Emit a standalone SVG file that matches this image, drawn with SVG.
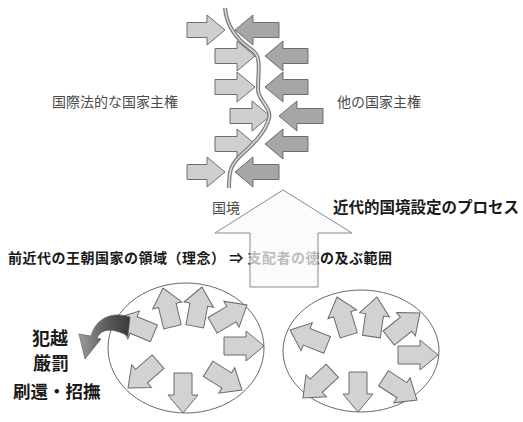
<svg xmlns="http://www.w3.org/2000/svg" width="523" height="422" viewBox="0 0 523 422">
<style>
  .t{font-family:"Noto Sans CJK JP","Noto Sans",sans-serif;}
  .g{fill:#4a4a4a;font-size:14px;}
  .b{fill:#1a1a1a;font-weight:bold;}
  .la{fill:#cfcfcf;stroke:#6e6e6e;stroke-width:1;}
  .da{fill:#a6a6a6;stroke:#6e6e6e;stroke-width:1;}
  .sa{fill:#d2d2d2;stroke:#6a6a6a;stroke-width:1;}
  .el{fill:none;stroke:#6a6a6a;stroke-width:1;}
</style>
<defs>
  <path id="sm" d="M-40,-9 H-18 V-15 L0,0 L-18,15 V9 H-40 Z"/>
  <linearGradient id="cg" x1="80" y1="0" x2="130" y2="0" gradientUnits="userSpaceOnUse">
    <stop offset="0" stop-color="#9a9a9a"/>
    <stop offset="0.55" stop-color="#5a5a5a"/>
    <stop offset="1" stop-color="#3a3a3a"/>
  </linearGradient>
</defs>

<g id="labels">
  <text class="t g" x="52" y="107">国際法的な国家主権</text>
  <text class="t g" x="337" y="107">他の国家主権</text>
  <text class="t g" x="212" y="213">国境</text>
  <text class="t b" x="333" y="213" font-size="15.5">近代的国境設定のプロセス</text>
  <text class="t b" x="8" y="263" font-size="14" textLength="384" lengthAdjust="spacing">前近代の王朝国家の領域（理念） ⇒ 支配者の徳の及ぶ範囲</text>
  <text class="t b" x="32" y="345" font-size="18">犯越</text>
  <text class="t b" x="33" y="370" font-size="18">厳罰</text>
  <text class="t b" x="13" y="398" font-size="17.5">刷還・招撫</text>
</g>

<g id="sovereignty-left">
  <path class="la" d="M187,22.5 H207 V15 L225,30 L207,45 V37.5 H187 Z"/>
  <path class="la" d="M215,48.5 H237 V41 L255,56 L237,71 V63.5 H215 Z"/>
  <path class="la" d="M215,79.5 H237 V72 L255,87 L237,102 V94.5 H215 Z"/>
  <path class="la" d="M230,108.5 H252 V101 L270,116 L252,131 V123.5 H230 Z"/>
  <path class="la" d="M215,136.5 H237 V129 L255,144 L237,159 V151.5 H215 Z"/>
  <path class="la" d="M187,164.5 H207 V157 L225,172 L207,187 V179.5 H187 Z"/>
</g>

<g id="sovereignty-right">
  <path class="da" d="M279,22.5 H253 V15 L235,30 L253,45 V37.5 H279 Z"/>
  <path class="da" d="M308,48.5 H283 V41 L265,56 L283,71 V63.5 H308 Z"/>
  <path class="da" d="M308,79.5 H283 V72 L265,87 L283,102 V94.5 H308 Z"/>
  <path class="da" d="M323,108.5 H297 V101 L279,116 L297,131 V123.5 H323 Z"/>
  <path class="da" d="M308,136.5 H283 V129 L265,144 L283,159 V151.5 H308 Z"/>
  <path class="da" d="M279,164.5 H253 V157 L235,172 L253,187 V179.5 H279 Z"/>
</g>

<g id="border-line">
  <path d="M225,8 C227,30 240,42 252,50 C262,57 258,70 258,90 C258,100 272,108 269,118 C266,132 252,145 240,156 C231,165 229,170 229,188" fill="none" stroke="#7a7a7a" stroke-width="4"/>
  <path d="M225,8 C227,30 240,42 252,50 C262,57 258,70 258,90 C258,100 272,108 269,118 C266,132 252,145 240,156 C231,165 229,170 229,188" fill="none" stroke="#d8d8d8" stroke-width="1.6"/>
</g>

<g id="process-arrow">
  <path d="M283,190 L352,233 H318 V287 H250 V233 H215 Z" fill="#fafafa" fill-opacity="0.72" stroke="#8a8a8a" stroke-width="1"/>
</g>

<g id="realm-left">
  <ellipse class="el" cx="186" cy="348" rx="78" ry="65"/>
  <use href="#sm" class="sa" transform="translate(117,318) rotate(-157.4)"/>
  <use href="#sm" class="sa" transform="translate(163,288) rotate(-103.7)"/>
  <use href="#sm" class="sa" transform="translate(202,287) rotate(-79.6)"/>
  <use href="#sm" class="sa" transform="translate(247,305) rotate(-30.5)"/>
  <use href="#sm" class="sa" transform="translate(264,346) rotate(0)"/>
  <use href="#sm" class="sa" transform="translate(242,390) rotate(32)"/>
  <use href="#sm" class="sa" transform="translate(183,413) rotate(90)"/>
  <use href="#sm" class="sa" transform="translate(128,388) rotate(138.8)"/>
</g>

<g id="crossing-arrow">
  <path d="M130,317 C112,311 96,318 91,336 L79,334 L85,359 L101,339 L97,338 C101,329 112,327 128,336 Z" fill="url(#cg)" stroke="#555" stroke-width="0.6"/>
</g>

<g id="realm-right">
  <ellipse class="el" cx="361" cy="351" rx="78" ry="61"/>
  <use href="#sm" class="sa" transform="translate(290,330) rotate(-158)"/>
  <use href="#sm" class="sa" transform="translate(337,297) rotate(-107)"/>
  <use href="#sm" class="sa" transform="translate(377,297) rotate(-82)"/>
  <use href="#sm" class="sa" transform="translate(420,313) rotate(-38.7)"/>
  <use href="#sm" class="sa" transform="translate(438,355) rotate(0)"/>
  <use href="#sm" class="sa" transform="translate(417,400) rotate(33)"/>
  <use href="#sm" class="sa" transform="translate(358,412) rotate(90)"/>
  <use href="#sm" class="sa" transform="translate(303,398) rotate(137)"/>
</g>
</svg>
